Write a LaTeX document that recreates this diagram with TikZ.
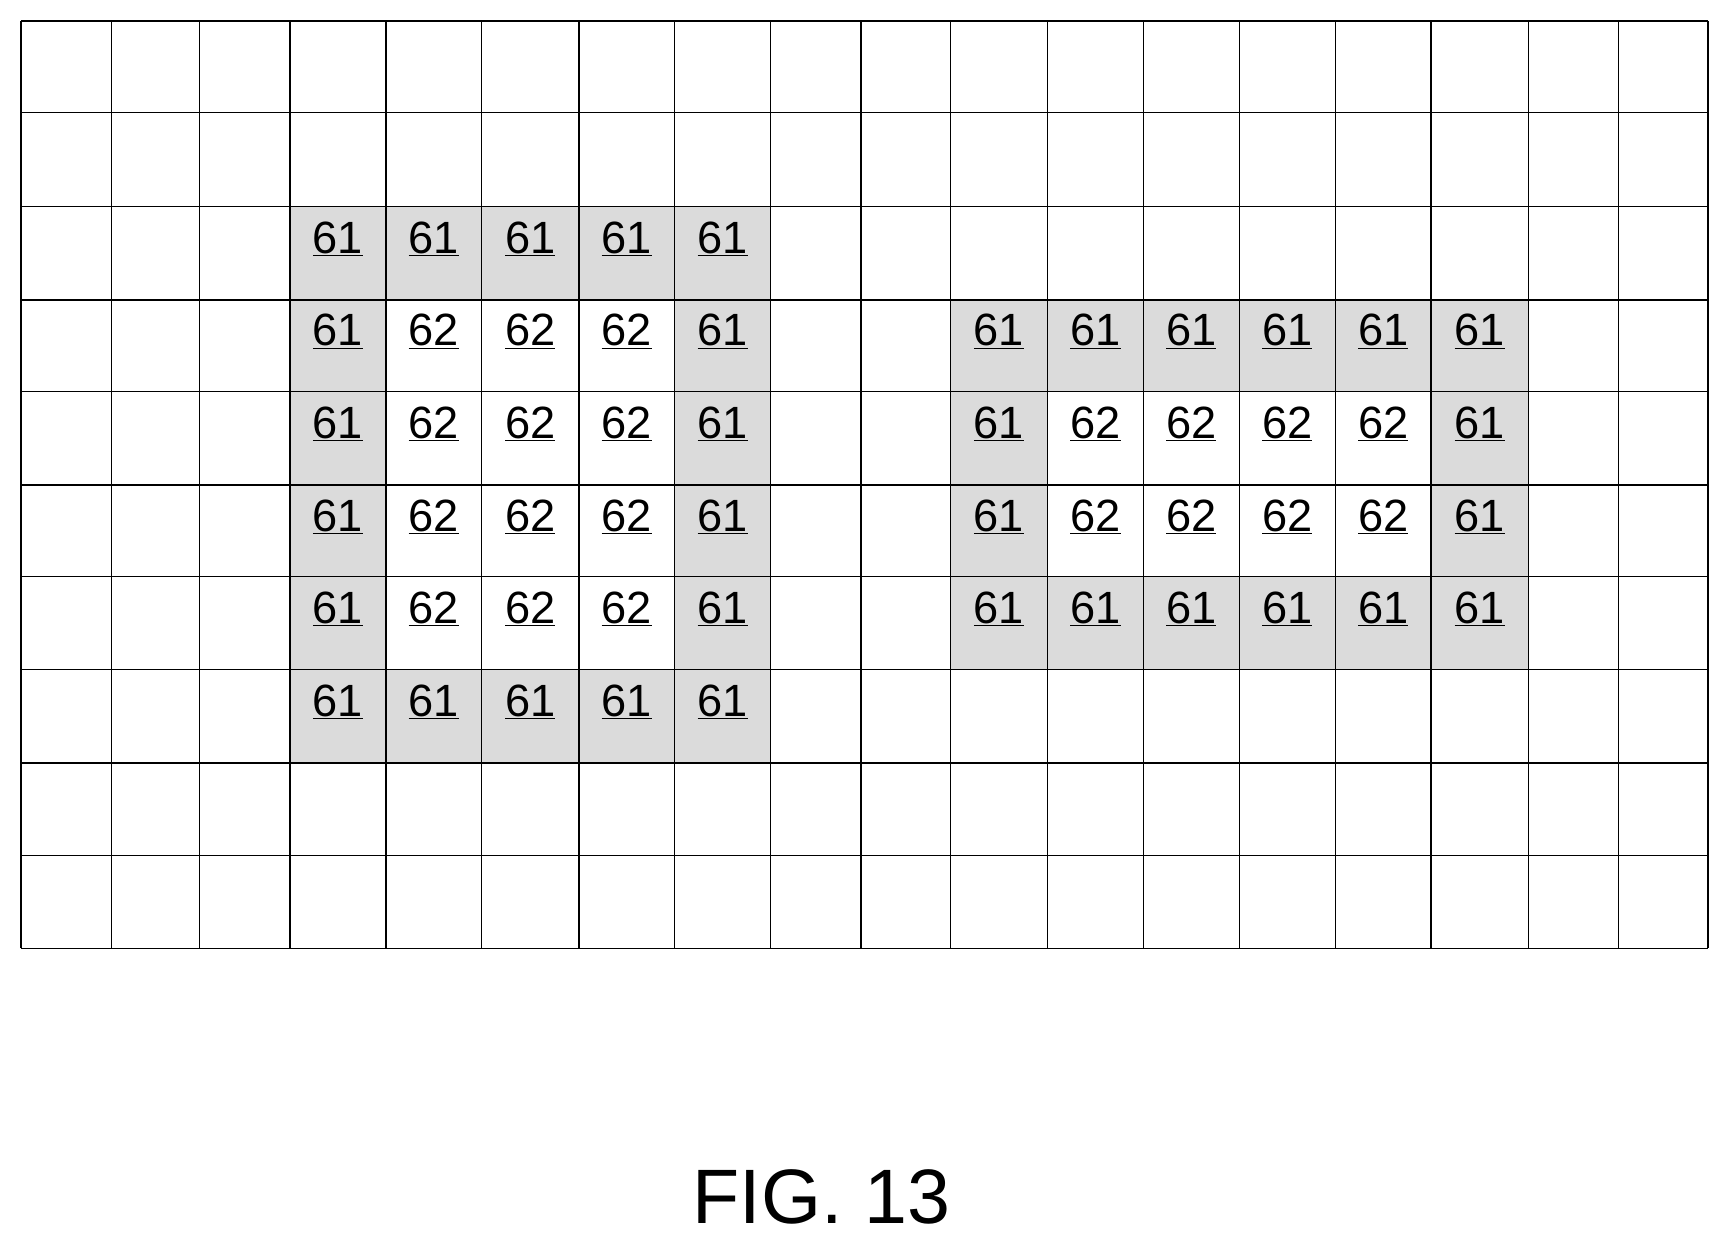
\documentclass[tikz,border=0pt]{standalone}
\usepackage{fontspec}
\setmainfont{Liberation Sans}
\begin{document}
\begin{tikzpicture}[
    x=1pt, y=-1pt,
    shaded/.style={fill=gray!28}, % border cells of a block
    gridline/.style={draw=black, line width=1.2pt},
    cell/.style={font=\fontsize{41}{41}\selectfont}
]
\useasboundingbox (0,0) rectangle (1560,1127);
% column and row borders
\def\xs{{19,101,181,263,350,437,525,612,699,781,862,950,1037,1124,1211,1298,1386,1468,1549}}
\def\ys{{19,102,187,272,355,440,523,607,692,776,860}}
% left block: columns 3-7, rows 2-7
\foreach \c in {3,...,7}
  \foreach \r in {2,...,7} {
    \pgfmathsetmacro{\xa}{\xs[\c]}\pgfmathsetmacro{\xb}{\xs[\c+1]}
    \pgfmathsetmacro{\ya}{\ys[\r]}\pgfmathsetmacro{\yb}{\ys[\r+1]}
    \pgfmathtruncatemacro{\edge}{(\c==3)||(\c==7)||(\r==2)||(\r==7)}
    \ifnum\edge=1
      \fill[shaded] (\xa,\ya) rectangle (\xb,\yb);
      \node[cell] (L-\c-\r) at ({(\xa+\xb)/2},{(\ya+\yb)/2-13}) {\underline{61}};
    \else
      \node[cell] (L-\c-\r) at ({(\xa+\xb)/2},{(\ya+\yb)/2-13}) {\underline{62}};
    \fi
  }
% right block: columns 10-15, rows 3-6
\foreach \c in {10,...,15}
  \foreach \r in {3,...,6} {
    \pgfmathsetmacro{\xa}{\xs[\c]}\pgfmathsetmacro{\xb}{\xs[\c+1]}
    \pgfmathsetmacro{\ya}{\ys[\r]}\pgfmathsetmacro{\yb}{\ys[\r+1]}
    \pgfmathtruncatemacro{\edge}{(\c==10)||(\c==15)||(\r==3)||(\r==6)}
    \ifnum\edge=1
      \fill[shaded] (\xa,\ya) rectangle (\xb,\yb);
      \node[cell] (R-\c-\r) at ({(\xa+\xb)/2},{(\ya+\yb)/2-13}) {\underline{61}};
    \else
      \node[cell] (R-\c-\r) at ({(\xa+\xb)/2},{(\ya+\yb)/2-13}) {\underline{62}};
    \fi
  }
% grid
\foreach \x in {19,101,181,263,350,437,525,612,699,781,862,950,1037,1124,1211,1298,1386,1468,1549}
  \draw[gridline] (\x,19) -- (\x,860);
\foreach \y in {19,102,187,272,355,440,523,607,692,776,860}
  \draw[gridline] (19,\y) -- (1549,\y);
\node[font=\fontsize{70}{70}\selectfont] (fig) at (745,1086) {FIG. 13};
\end{tikzpicture}
\end{document}
